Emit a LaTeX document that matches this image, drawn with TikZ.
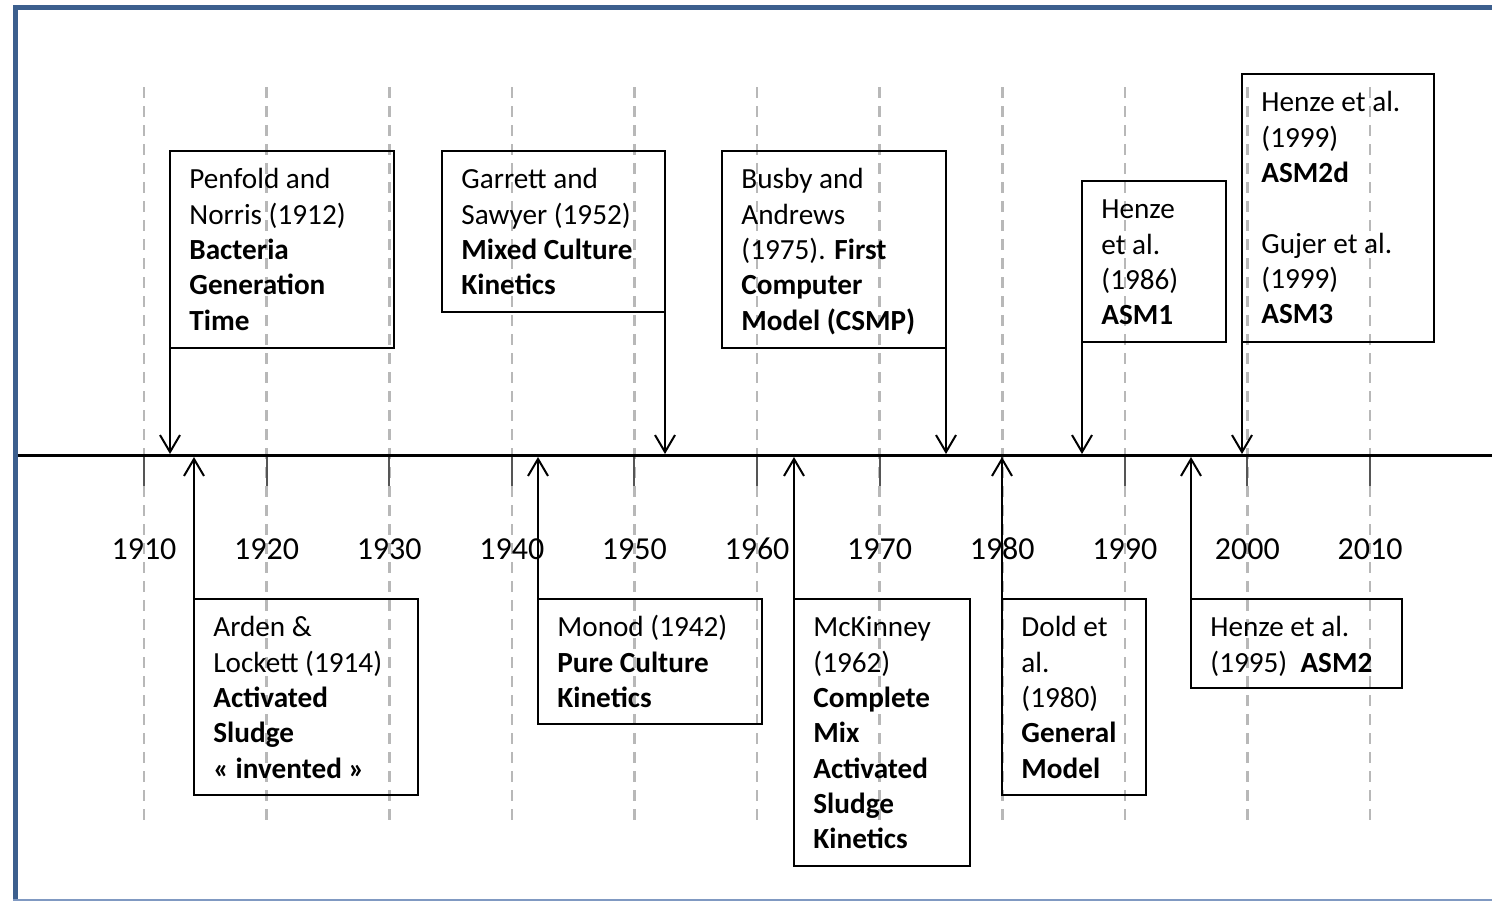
\documentclass[tikz,border=0pt]{standalone}
\usepackage{fontspec}
\setmainfont{Carlito}
\usetikzlibrary{arrows.meta,fit}
\definecolor{framedark}{HTML}{3C5F8E}
\definecolor{framelight}{HTML}{8099C2}
\definecolor{gridgray}{HTML}{B8B8B8}
\definecolor{tickgray}{HTML}{555555}
% fixed height for the first line of every box text
\newcommand\firstline{\rule{0pt}{13pt}}

\begin{document}
\begin{tikzpicture}[x=0.5pt,y=-0.5pt,
  eventbox/.style={draw=black, line width=1.1pt, inner sep=0pt, outer sep=0pt},
  boxtext/.style={anchor=north west, inner sep=0pt, align=left,
                  font=\fontsize{14.6}{17.65}\selectfont},
  yearlabel/.style={anchor=base, inner sep=0pt, font=\fontsize{16}{19}\selectfont},
  gridline/.style={draw=gridgray, line width=1.3pt, dash pattern=on 5.5pt off 4pt},
  tickmark/.style={draw=tickgray, line width=1pt},
  timeline/.style={draw=black, line width=1.5pt},
  pointer/.style={draw=black, line width=1pt, -{Straight Barb[length=8.5pt,width=10pt]}},
]
\useasboundingbox (0,0) rectangle (1492,901);

% page frame
\draw[framedark, line width=2.5pt] (13,7) -- (1492,7);
\draw[framedark, line width=2.5pt] (15.5,5) -- (15.5,901);
\draw[framelight, line width=1pt] (13,899.5) -- (1492,899.5);

% decade grid, ticks and labels
\foreach \k in {0,...,10} {
  \pgfmathsetmacro\gx{144+122.6*\k}
  \pgfmathtruncatemacro\yr{1910+10*\k}
  \draw[gridline] (\gx,87) -- (\gx,823);
  \draw[tickmark] (\gx,455) -- (\gx,486);
  \node[yearlabel] (yr\yr) at (\gx,559) {\yr};
}

% time axis
\coordinate (axisL) at (18,455);
\coordinate (axisR) at (1492,455);
\draw[timeline] (axisL) -- (axisR);

% events above the axis
\node[eventbox, fit={(170,151) (394,348)}] (p1) {};
\node[eventbox, fit={(442,151) (665,312)}] (p2) {};
\node[eventbox, fit={(722,151) (946,348)}] (p3) {};
\node[eventbox, fit={(1082,181) (1226,342)}] (p4) {};
\node[eventbox, fit={(1242,74) (1434,342)}] (p5) {};

\node[boxtext] (p1t) at ([xshift=9.5pt,yshift=-5.75pt]p1.north west)
  {\firstline Penfold and\\ Norris (1912)\\ \textbf{Bacteria}\\ \textbf{Generation}\\ \textbf{Time}};
\node[boxtext] (p2t) at ([xshift=9.5pt,yshift=-5.75pt]p2.north west)
  {\firstline Garrett and\\ Sawyer (1952)\\ \textbf{Mixed Culture}\\ \textbf{Kinetics}};
\node[boxtext] (p3t) at ([xshift=9.5pt,yshift=-5.75pt]p3.north west)
  {\firstline Busby and\\ Andrews\\ (1975). \textbf{First}\\ \textbf{Computer}\\ \textbf{Model (CSMP)}};
\node[boxtext] (p4t) at ([xshift=9.5pt,yshift=-5.75pt]p4.north west)
  {\firstline Henze\\ et al.\\ (1986)\\ \textbf{ASM1}};
\node[boxtext] (p5t) at ([xshift=9.5pt,yshift=-5.75pt]p5.north west)
  {\firstline Henze et al.\\ (1999)\\ \textbf{ASM2d}\\ \mbox{}\\ Gujer et al.\\ (1999)\\ \textbf{ASM3}};

% events below the axis
\node[eventbox, fit={(194,599) (418,795)}] (b1) {};
\node[eventbox, fit={(538,599) (762,724)}] (b2) {};
\node[eventbox, fit={(794,599) (970,866)}] (b3) {};
\node[eventbox, fit={(1002,599) (1146,795)}] (b4) {};
\node[eventbox, fit={(1191,599) (1402,688)}] (b5) {};

\node[boxtext] (b1t) at ([xshift=9.5pt,yshift=-5.75pt]b1.north west)
  {\firstline Arden \&\\ Lockett (1914)\\ \textbf{Activated}\\ \textbf{Sludge}\\ \textbf{«~invented~»}};
\node[boxtext] (b2t) at ([xshift=9.5pt,yshift=-5.75pt]b2.north west)
  {\firstline Monod (1942)\\ \textbf{Pure Culture}\\ \textbf{Kinetics}};
\node[boxtext] (b3t) at ([xshift=9.5pt,yshift=-5.75pt]b3.north west)
  {\firstline McKinney\\ (1962)\\ \textbf{Complete}\\ \textbf{Mix}\\ \textbf{Activated}\\ \textbf{Sludge}\\ \textbf{Kinetics}};
\node[boxtext] (b4t) at ([xshift=9.5pt,yshift=-5.75pt]b4.north west)
  {\firstline Dold et\\ al.\\ (1980)\\ \textbf{General}\\ \textbf{Model}};
\node[boxtext] (b5t) at ([xshift=9.5pt,yshift=-5.75pt]b5.north west)
  {\firstline Henze et al.\\ (1995)\ \ \textbf{ASM2}};

% arrow targets on the axis
\coordinate (t1) at (170,454);
\coordinate (t2) at (665,454);
\coordinate (t3) at (946,454);
\coordinate (t4) at (1082,454);
\coordinate (t5) at (1242,454);
\coordinate (u1) at (194,457);
\coordinate (u2) at (538,457);
\coordinate (u3) at (794,457);
\coordinate (u4) at (1002,457);
\coordinate (u5) at (1191,457);

\draw[pointer] (p1.south west) -- (t1);
\draw[pointer] (p2.south east) -- (t2);
\draw[pointer] (p3.south east) -- (t3);
\draw[pointer] (p4.south west) -- (t4);
\draw[pointer] (p5.south west) -- (t5);
\draw[pointer] (b1.north west) -- (u1);
\draw[pointer] (b2.north west) -- (u2);
\draw[pointer] (b3.north west) -- (u3);
\draw[pointer] (b4.north west) -- (u4);
\draw[pointer] (b5.north west) -- (u5);
\end{tikzpicture}
\end{document}
